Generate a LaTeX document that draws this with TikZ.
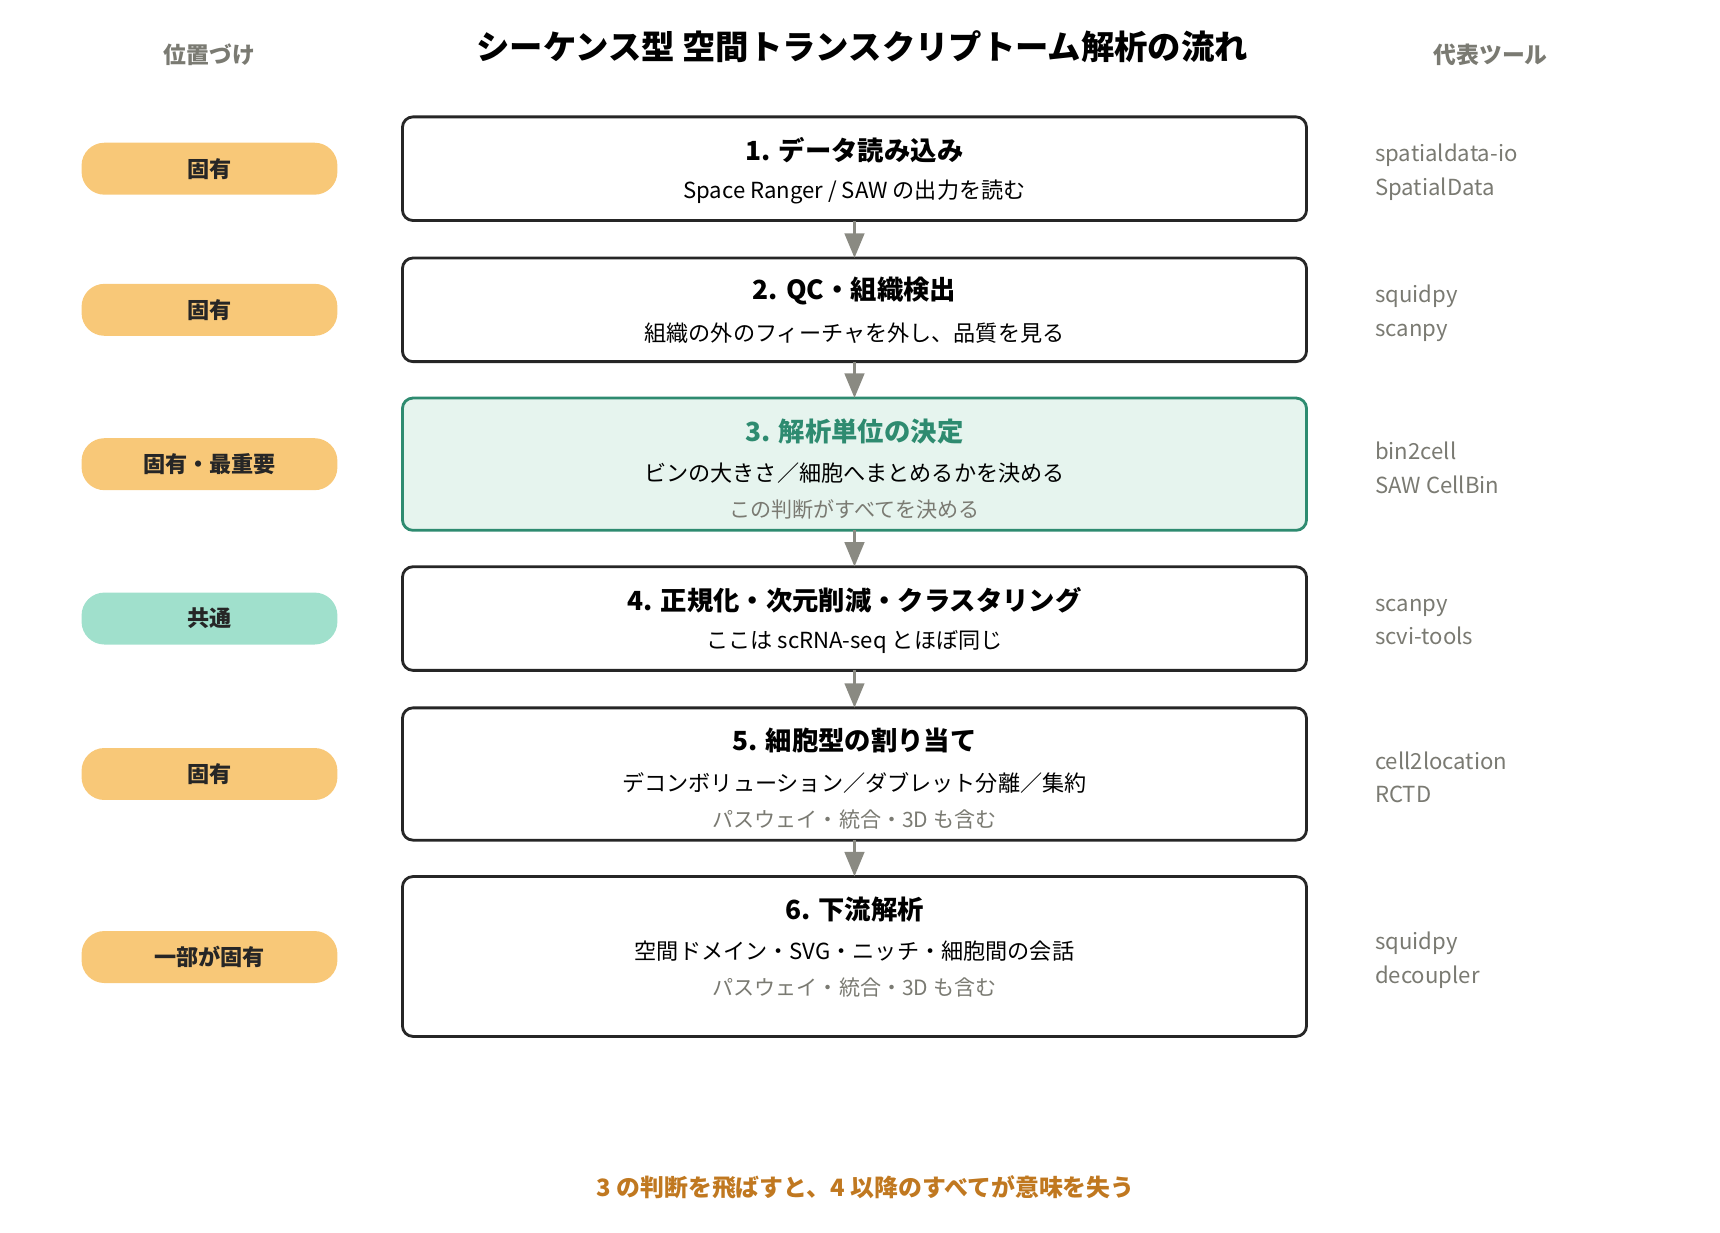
\documentclass[tikz,border=0pt]{standalone}
\usepackage{fontspec}
\setmainfont{Noto Sans CJK JP}
\usetikzlibrary{arrows.meta}
\definecolor{pillorange}{HTML}{F8C878}
\definecolor{pillteal}{HTML}{A0E0CC}
\definecolor{keygreen}{HTML}{2E8B70}
\definecolor{keyfill}{HTML}{E6F4EE}
\definecolor{toolgrey}{HTML}{7A7A72}
\definecolor{arrowgrey}{HTML}{8A8A82}
\definecolor{footorange}{HTML}{C07820}
\tikzset{
  stepbox/.style={draw=black!85,line width=0.8pt,rounded corners=3pt,fill=white},
  pill/.style={rounded corners=6.5pt,minimum width=2.56cm,minimum height=0.52cm,font=\fontsize{6.3}{7}\selectfont\bfseries,text=black!85},
  tool/.style={anchor=west,align=left,text=toolgrey,font=\fontsize{6.3}{9.6}\selectfont},
  flow/.style={arrowgrey,line width=1pt,-{Triangle[length=7pt,width=5.5pt]}},
  hd/.style={font=\fontsize{7.5}{8}\selectfont\bfseries},
  sub/.style={font=\fontsize{6.3}{7}\selectfont},
  note/.style={font=\fontsize{6}{7}\selectfont,text=toolgrey}
}
\begin{document}
\begin{tikzpicture}[x=0.011026cm,y=-0.011026cm]
  \useasboundingbox (0,0) rectangle (1560,1117.4);

  % headings
  \node[font=\fontsize{9.5}{10}\selectfont\bfseries] (title) at (782,42) {シーケンス型 空間トランスクリプトーム解析の流れ};
  \node[text=toolgrey,font=\fontsize{6.5}{7}\selectfont\bfseries] (lhead) at (190,50) {位置づけ};
  \node[text=toolgrey,font=\fontsize{6.5}{7}\selectfont\bfseries] (rhead) at (1352,50) {代表ツール};

  % steps
  \draw[stepbox] (365,106) rectangle (1185,200);
  \coordinate (b1s) at (775,200); \coordinate (b2n) at (775,234);
  \node[hd] (h1) at (775,136) {1. データ読み込み};
  \node[sub] (s1) at (775,174) {Space Ranger / SAW の出力を読む};

  \draw[stepbox] (365,234) rectangle (1185,328);
  \coordinate (b2s) at (775,328); \coordinate (b3n) at (775,361);
  \node[hd] (h2) at (775,264) {2. QC・組織検出};
  \node[sub] (s2) at (775,302) {組織の外のフィーチャを外し、品質を見る};

  \draw[stepbox,draw=keygreen,fill=keyfill] (365,361) rectangle (1185,481);
  \coordinate (b3s) at (775,481); \coordinate (b4n) at (775,514);
  \node[hd,text=keygreen] (h3) at (775,391) {3. 解析単位の決定};
  \node[sub] (s3) at (775,429) {ビンの大きさ／細胞へまとめるかを決める};
  \node[note] (n3) at (775,462) {この判断がすべてを決める};

  \draw[stepbox] (365,514) rectangle (1185,608);
  \coordinate (b4s) at (775,608); \coordinate (b5n) at (775,642);
  \node[hd] (h4) at (775,544) {4. 正規化・次元削減・クラスタリング};
  \node[sub] (s4) at (775,582) {ここは scRNA-seq とほぼ同じ};

  \draw[stepbox] (365,642) rectangle (1185,762);
  \coordinate (b5s) at (775,762); \coordinate (b6n) at (775,795);
  \node[hd] (h5) at (775,672) {5. 細胞型の割り当て};
  \node[sub] (s5) at (775,710) {デコンボリューション／ダブレット分離／集約};
  \node[note] (n5) at (775,743) {パスウェイ・統合・3D も含む};

  \draw[stepbox] (365,795) rectangle (1185,940);
  \node[hd] (h6) at (775,825) {6. 下流解析};
  \node[sub] (s6) at (775,863) {空間ドメイン・SVG・ニッチ・細胞間の会話};
  \node[note] (n6) at (775,896) {パスウェイ・統合・3D も含む};

  % arrows
  \foreach \a/\b in {b1s/b2n,b2s/b3n,b3s/b4n,b4s/b5n,b5s/b6n}
    \draw[flow] (\a) -- (\b);

  % pills
  \node[pill,fill=pillorange] (p1) at (190,153) {固有};
  \node[pill,fill=pillorange] (p2) at (190,281) {固有};
  \node[pill,fill=pillorange] (p3) at (190,421) {固有・最重要};
  \node[pill,fill=pillteal] (p4) at (190,561) {共通};
  \node[pill,fill=pillorange] (p5) at (190,702) {固有};
  \node[pill,fill=pillorange] (p6) at (190,868) {一部が固有};

  % tools
  \node[tool] (t1) at (1236,156) {spatialdata-io\\SpatialData};
  \node[tool] (t2) at (1236,284) {squidpy\\scanpy};
  \node[tool] (t3) at (1236,424) {bin2cell\\SAW CellBin};
  \node[tool] (t4) at (1236,564) {scanpy\\scvi-tools};
  \node[tool] (t5) at (1236,705) {cell2location\\RCTD};
  \node[tool] (t6) at (1236,871) {squidpy\\decoupler};

  \node[text=footorange,font=\fontsize{6.8}{7}\selectfont\bfseries] (foot) at (785,1077) {3 の判断を飛ばすと、4 以降のすべてが意味を失う};
\end{tikzpicture}
\end{document}
